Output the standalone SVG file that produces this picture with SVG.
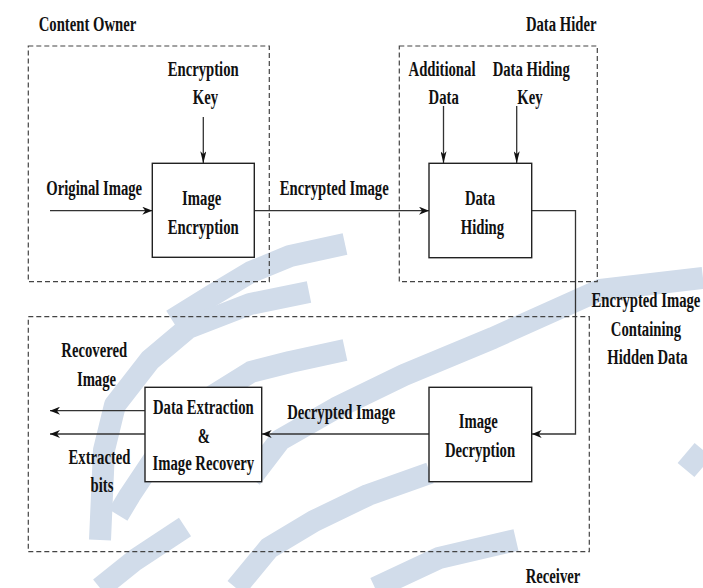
<svg xmlns="http://www.w3.org/2000/svg" width="703" height="588" viewBox="0 0 703 588">
<defs>
<style>
text{font-family:"Liberation Serif","Times New Roman",serif;font-weight:bold;font-size:21px;fill:#111;text-anchor:middle}
.wm{fill:none;stroke:#d1dcea;stroke-width:22;stroke-linecap:butt;stroke-linejoin:round}
.dash{fill:none;stroke:#444;stroke-width:1.2;stroke-dasharray:5 3}
.ln{fill:none;stroke:#333;stroke-width:1.3}
.box{fill:#fff;stroke:#222;stroke-width:1.4}
</style>
<marker id="ah" viewBox="0 0 10 8" refX="10" refY="4" markerWidth="10" markerHeight="8" markerUnits="userSpaceOnUse" orient="auto">
<path d="M0,0 L10,4 L0,8 L3,4 Z" fill="#111"/>
</marker>
<marker id="av" viewBox="0 0 12 6" refX="12" refY="3" markerWidth="12" markerHeight="6" markerUnits="userSpaceOnUse" orient="auto">
<path d="M0,0 L12,3 L0,6 L3,3 Z" fill="#111"/>
</marker>
</defs>
<rect width="703" height="588" fill="#fff"/>
<g id="watermark">
<path class="wm" d="M345,244 L290,256 L251,272 L211,296 L172,320"/>
<path class="wm" d="M309,292 L250,304 L188,328 L150,360 L115,405 L104,450 L100,540"/>
<path class="wm" d="M345,350 L290,362 L251,372 L206,400 L160,450 L130,495 L118,515"/>
<path class="wm" d="M703,278 L600,290 L493,338 L404,375 L336,408 L280,440 L251,478"/>
<path class="wm" d="M430,473 L368,495 L314,521 L269,548 L236,588"/>
<path class="wm" d="M516,540 L439,558 L375,588"/>
<path class="wm" d="M185,527 L135,560 L100,588"/>
<path class="wm" d="M703,450 L686,470"/>
</g>
<g id="groups">
<rect class="dash" x="28.3" y="46" width="241" height="235.7"/>
<rect class="dash" x="399.3" y="46" width="198" height="235.7"/>
<rect class="dash" x="28.3" y="316.7" width="561" height="235"/>
</g>
<g id="connectors">
<line class="ln" x1="50" y1="210.7" x2="152.3" y2="210.7" marker-end="url(#ah)"/>
<line class="ln" x1="203.3" y1="117" x2="203.3" y2="163.3" marker-end="url(#av)"/>
<line class="ln" x1="254.3" y1="210.7" x2="429" y2="210.7" marker-end="url(#ah)"/>
<line class="ln" x1="443.5" y1="106" x2="443.5" y2="163.3" marker-end="url(#av)"/>
<line class="ln" x1="516.7" y1="106" x2="516.7" y2="163.3" marker-end="url(#av)"/>
<polyline class="ln" points="531.7,210.7 575.5,210.7 575.5,434 531.7,434" marker-end="url(#ah)"/>
<line class="ln" x1="429" y1="434" x2="261.7" y2="434" marker-end="url(#ah)"/>
<line class="ln" x1="145" y1="410.7" x2="50" y2="410.7" marker-end="url(#ah)"/>
<line class="ln" x1="145" y1="434" x2="50" y2="434" marker-end="url(#ah)"/>
</g>
<g id="labels">
<text transform="translate(87.5,31) scale(0.7,1)">Content Owner</text>
<text transform="translate(561.2,31) scale(0.7,1)">Data Hider</text>
<text transform="translate(203.2,76) scale(0.7,1)">Encryption</text>
<text transform="translate(205.5,104) scale(0.7,1)">Key</text>
<text transform="translate(442,76) scale(0.7,1)">Additional</text>
<text transform="translate(443.7,104) scale(0.7,1)">Data</text>
<text transform="translate(531.2,76) scale(0.7,1)">Data Hiding</text>
<text transform="translate(530,104) scale(0.7,1)">Key</text>
<text transform="translate(94.2,195) scale(0.7,1)">Original Image</text>
<text transform="translate(334.2,195) scale(0.7,1)">Encrypted Image</text>
<text transform="translate(645.9,307) scale(0.7,1)">Encrypted Image</text>
<text transform="translate(645.9,336) scale(0.7,1)">Containing</text>
<text transform="translate(647.5,364) scale(0.7,1)">Hidden Data</text>
<text transform="translate(94.2,357) scale(0.7,1)">Recovered</text>
<text transform="translate(96.5,385.5) scale(0.7,1)">Image</text>
<text transform="translate(99.5,464) scale(0.7,1)">Extracted</text>
<text transform="translate(102,491.5) scale(0.7,1)">bits</text>
<text transform="translate(341.2,419) scale(0.7,1)">Decrypted Image</text>
<text transform="translate(553,583) scale(0.7,1)">Receiver</text>
</g>
<g id="image-encryption">
<rect class="box" x="152.3" y="163.3" width="102" height="94"/>
<text transform="translate(201.7,205) scale(0.7,1)">Image</text>
<text transform="translate(203.2,234) scale(0.7,1)">Encryption</text>
</g>
<g id="data-hiding">
<rect class="box" x="429" y="163.3" width="102.7" height="94.4"/>
<text transform="translate(480,205) scale(0.7,1)">Data</text>
<text transform="translate(482.5,234) scale(0.7,1)">Hiding</text>
</g>
<g id="data-extraction">
<rect class="box" x="145" y="387.3" width="116.7" height="94.4"/>
<text transform="translate(203.3,414) scale(0.7,1)">Data Extraction</text>
<text transform="translate(203.8,442.5) scale(0.7,1)">&amp;</text>
<text transform="translate(203.3,470) scale(0.7,1)">Image Recovery</text>
</g>
<g id="image-decryption">
<rect class="box" x="429" y="387.3" width="102.7" height="94.4"/>
<text transform="translate(478.3,428) scale(0.7,1)">Image</text>
<text transform="translate(480,456.5) scale(0.7,1)">Decryption</text>
</g>
</svg>
